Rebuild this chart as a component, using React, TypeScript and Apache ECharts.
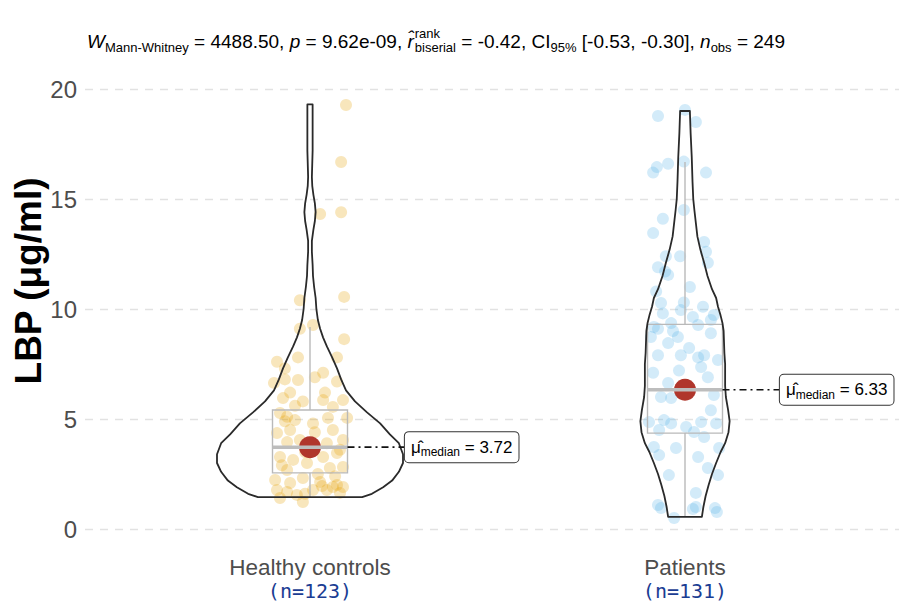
import React, { useEffect, useRef } from "react";
import * as echarts from "echarts";

const categories = ["Healthy controls", "Patients"];
const sampleSizes = [123, 131];
const yTickValues = [0, 5, 10, 15, 20];
const medianValues = [3.72, 6.33];
const q1Values = [2.55, 4.36];
const q3Values = [5.41, 9.3];
const whiskerLowValues = [1.42, 0.55];
const whiskerHighValues = [9.18, 16.68];

// violin outline: y value and half width (in category units)
const controlsViolinY = [1.45, 1.6, 1.9, 2.2, 2.6, 3.0, 3.4, 3.9, 4.3, 4.8, 5.3, 5.8, 6.3, 6.8, 7.3, 7.8, 8.3, 8.7, 9.1, 9.5, 10.0, 10.5, 11.0, 11.5, 12.0, 12.6, 13.1, 13.6, 14.0, 14.4, 14.8, 15.2, 15.6, 16.0, 16.6, 17.2, 17.8, 18.4, 18.9, 19.3];
const controlsViolinHalfWidth = [0.139, 0.165, 0.195, 0.219, 0.237, 0.248, 0.248, 0.237, 0.213, 0.187, 0.152, 0.12, 0.096, 0.083, 0.072, 0.059, 0.045, 0.035, 0.027, 0.021, 0.017, 0.015, 0.011, 0.008, 0.007, 0.005, 0.005, 0.009, 0.013, 0.015, 0.013, 0.009, 0.006, 0.005, 0.006, 0.007, 0.007, 0.007, 0.007, 0.007];
const patientsViolinY = [0.55, 1.0, 1.5, 2.0, 2.5, 3.0, 3.5, 3.9, 4.4, 4.9, 5.4, 6.0, 6.5, 7.0, 7.5, 8.0, 8.5, 9.0, 9.35, 9.7, 10.1, 10.5, 10.9, 11.5, 12.1, 12.7, 13.3, 13.9, 14.5, 15.0, 15.8, 16.9, 18.0, 19.0];
const patientsViolinHalfWidth = [0.045, 0.049, 0.055, 0.063, 0.072, 0.083, 0.095, 0.107, 0.116, 0.119, 0.115, 0.109, 0.107, 0.107, 0.107, 0.105, 0.104, 0.103, 0.1, 0.095, 0.088, 0.083, 0.072, 0.06, 0.051, 0.041, 0.033, 0.029, 0.025, 0.022, 0.02, 0.018, 0.015, 0.013];

// raw points: [jitter offset (category units), LBP value]
const controlsPoints = [[0.096,19.27],[0.083,16.68],[0.027,14.32],[0.083,14.4],[-0.027,10.4],[0.091,10.55],[-0.027,9.1],[0.008,9.27],[0.091,8.63],[-0.088,7.6],[-0.032,7.8],[0.072,7.8],[-0.067,7.3],[-0.096,6.64],[-0.067,6.8],[-0.032,6.77],[0.013,6.9],[0.035,7.1],[0.072,6.7],[-0.053,6.2],[0.04,6.2],[-0.019,5.8],[0.035,5.86],[0.088,5.86],[-0.072,5.95],[0.061,5.55],[-0.04,5.6],[-0.08,5.27],[0.099,5.05],[-0.04,4.95],[0.008,4.8],[0.048,5.05],[-0.061,5.1],[-0.067,4.9],[-0.088,4.36],[-0.053,4.5],[0.061,4.5],[0.013,4.4],[0.088,4.05],[-0.061,3.95],[-0.027,4.05],[0.045,3.9],[0.08,3.6],[-0.013,3.5],[-0.08,3.27],[-0.045,3.14],[0.035,3.27],[0.072,3.45],[-0.008,3.0],[-0.075,2.9],[-0.061,2.68],[0.053,2.77],[0.088,2.82],[0.021,2.5],[0.067,2.4],[-0.093,2.23],[-0.053,2.09],[-0.019,2.32],[0.027,2.14],[0.072,2.0],[0.088,1.91],[0.061,1.91],[-0.088,1.77],[-0.061,1.68],[-0.035,1.55],[0.008,1.77],[0.045,1.77],[-0.019,1.23],[-0.08,1.41],[0.08,1.64],[0.032,1.95],[-0.013,1.6]];
const patientsPoints = [[-0.072,18.77],[0,19.05],[0.029,18.5],[-0.085,16.2],[-0.075,16.45],[-0.045,16.6],[-0.003,16.7],[0.056,16.2],[-0.003,14.5],[-0.059,14.1],[-0.085,13.45],[0.051,13.05],[0.056,12.6],[-0.051,12.4],[-0.013,12.4],[0.061,12.1],[-0.072,11.9],[-0.053,11.7],[-0.045,11.55],[-0.077,10.8],[0.013,11.0],[-0.064,10.27],[-0.003,10.3],[0.048,10.1],[-0.011,9.95],[-0.059,9.8],[0.021,9.64],[0.077,9.73],[0.069,9.5],[-0.037,9.36],[-0.083,9.18],[-0.072,9.1],[-0.032,9.0],[0.035,9.27],[0.069,8.9],[-0.091,8.73],[-0.019,8.73],[-0.045,8.45],[0.011,8.23],[-0.072,7.9],[-0.011,7.9],[0.035,7.8],[0.051,7.9],[0.043,7.36],[0.088,7.68],[-0.085,7.1],[-0.016,7.2],[0.061,6.9],[-0.045,6.64],[-0.064,6.0],[-0.037,5.95],[0.077,6.09],[0.069,5.4],[-0.096,4.86],[-0.056,4.95],[-0.037,4.8],[0.003,4.64],[0.043,4.86],[0.083,4.8],[-0.069,4.5],[0.024,4.41],[0.051,4.18],[-0.083,3.73],[-0.024,3.68],[0.091,3.68],[-0.069,3.36],[0.035,3.27],[0.061,2.77],[-0.043,2.45],[0.088,2.45],[0.029,1.64],[-0.072,1.09],[-0.064,0.95],[-0.029,0.5],[0.021,0.91],[0.029,1.0],[0.08,0.95],[0.085,0.77]];

// subtitle pieces: [text, kind] kind: n normal, i italic, s subscript, stack super+sub
const titleParts: [string, string][] = [
  ["W", "i"], ["Mann-Whitney", "s"], [" = 4488.50, ", "n"],
  ["p", "i"], [" = 9.62e-09, ", "n"],
  ["r\u0302", "i"], ["rank|biserial", "stack"], [" = -0.42, CI", "n"], ["95%", "s"],
  [" [-0.53, -0.30], ", "n"], ["n", "i"], ["obs", "s"], [" = 249", "n"],
];

const FONT = "'Liberation Sans', Arial, Helvetica, sans-serif";

export default function App() {
  const ref = useRef<HTMLDivElement>(null);
  useEffect(() => {
    if (!ref.current) return;
    const chart = echarts.init(ref.current, null, { renderer: "svg" });

    const violins = [
      { ys: controlsViolinY, hw: controlsViolinHalfWidth },
      { ys: patientsViolinY, hw: patientsViolinHalfWidth },
    ];
    const BOX_HALF = 0.1;
    const LABEL_OFFSET = 0.253;

    // title layout
    const canvas = document.createElement("canvas");
    const ctx = canvas.getContext("2d")!;
    const MAIN = 19;
    const SUB = 13;
    const measure = (t: string, size: number, italic: boolean) => {
      ctx.font = `${italic ? "italic " : ""}${size}px ${FONT}`;
      return ctx.measureText(t).width;
    };
    type Frag = { text: string; size: number; italic: boolean; dx: number; dy: number };
    const frags: Frag[] = [];
    let cursor = 0;
    for (const [t, kind] of titleParts) {
      if (kind === "stack") {
        const [sup, sub] = t.split("|");
        const w1 = measure(sup, SUB, false);
        const w2 = measure(sub, SUB, false);
        frags.push({ text: sup, size: SUB, italic: false, dx: cursor + 1, dy: -10 });
        frags.push({ text: sub, size: SUB, italic: false, dx: cursor + 1, dy: 4 });
        cursor += Math.max(w1, w2) + 1;
      } else {
        const size = kind === "s" ? SUB : MAIN;
        const italic = kind === "i";
        const w = measure(t, size, italic);
        frags.push({ text: t, size, italic, dx: cursor, dy: kind === "s" ? 4 : 0 });
        cursor += w;
      }
    }
    const titleCenter = 436;
    const titleBaseline = 48;
    const startX = titleCenter - cursor / 2;
    const titleElems = frags.map((f) => ({
      type: "text",
      x: startX + f.dx,
      y: titleBaseline + f.dy - 0.35 * f.size,
      silent: true,
      style: {
        text: f.text,
        fontSize: f.size,
        fontFamily: FONT,
        fontStyle: f.italic ? "italic" : "normal",
        fill: "#000",
        align: "left",
        verticalAlign: "middle",
      },
    }));

    const renderItem = (params: any, api: any) => {
      const i = params.dataIndex;
      const cx = i + 1;
      const v = violins[i];
      const left = v.ys.map((y, k) => api.coord([cx - v.hw[k], y]));
      const right = v.ys.map((y, k) => api.coord([cx + v.hw[k], y])).reverse();
      const tl = api.coord([cx - BOX_HALF, q3Values[i]]);
      const br = api.coord([cx + BOX_HALF, q1Values[i]]);
      const wTop = api.coord([cx, whiskerHighValues[i]]);
      const q3p = api.coord([cx, q3Values[i]]);
      const q1p = api.coord([cx, q1Values[i]]);
      const wBot = api.coord([cx, whiskerLowValues[i]]);
      const medL = api.coord([cx - BOX_HALF, medianValues[i]]);
      const medR = api.coord([cx + BOX_HALF, medianValues[i]]);
      const mid = api.coord([cx, medianValues[i]]);
      const lab = api.coord([cx + LABEL_OFFSET, medianValues[i]]);
      const boxStroke = "#b9b9b9";
      return {
        type: "group",
        children: [
          { type: "line", shape: { x1: wTop[0], y1: wTop[1], x2: q3p[0], y2: q3p[1] }, style: { stroke: boxStroke, lineWidth: 1.4 } },
          { type: "line", shape: { x1: q1p[0], y1: q1p[1], x2: wBot[0], y2: wBot[1] }, style: { stroke: boxStroke, lineWidth: 1.4 } },
          { type: "rect", shape: { x: tl[0], y: tl[1], width: br[0] - tl[0], height: br[1] - tl[1] }, style: { fill: "none", stroke: boxStroke, lineWidth: 1.4 } },
          { type: "polygon", shape: { points: left.concat(right) }, style: { fill: "none", stroke: "#2a2a2a", lineWidth: 1.8, lineJoin: "round" } },
          { type: "circle", shape: { cx: mid[0], cy: mid[1], r: 11 }, style: { fill: "#b0362c" } },
          { type: "line", shape: { x1: medL[0], y1: medL[1], x2: medR[0], y2: medR[1] }, style: { stroke: "#bdbdbd", lineWidth: 3.5 } },
          { type: "line", shape: { x1: medR[0], y1: medR[1], x2: lab[0], y2: lab[1] }, style: { stroke: "#111", lineWidth: 1.6, lineDash: [7, 4, 2, 4] } },
          {
            type: "text",
            x: lab[0],
            y: lab[1],
            style: {
              text: `{m|\u03bc\u0302}{s|median}{v| = ${medianValues[i].toFixed(2)}}`,
              align: "left",
              verticalAlign: "middle",
              backgroundColor: "#fff",
              borderColor: "#333",
              borderWidth: 1,
              borderRadius: 4,
              padding: [4, 6, 4, 6],
              rich: {
                m: { fontSize: 17, fontFamily: FONT, fill: "#000", lineHeight: 22 },
                s: { fontSize: 12, fontFamily: FONT, fill: "#000", lineHeight: 14, verticalAlign: "bottom" },
                v: { fontSize: 17, fontFamily: FONT, fill: "#000", lineHeight: 22 },
              },
            },
          },
        ],
      };
    };

    chart.setOption({
      animation: false,
      backgroundColor: "#fff",
      grid: { left: 85, right: 0, top: 89, bottom: 77 },
      xAxis: {
        type: "value",
        min: 0.4,
        max: 0.4 + 814 / 375,
        splitLine: { show: false },
        axisLine: { show: false },
        axisTick: { show: false },
        axisLabel: {
          customValues: [1, 2],
          margin: 26,
          formatter: (val: number) => {
            const k = Math.round(val) - 1;
            return `{a|${categories[k]}}\n{b|(n=${sampleSizes[k]})}`;
          },
          rich: {
            a: { fontSize: 22.5, fontFamily: FONT, color: "#4d4d4d", lineHeight: 24 },
            b: { fontSize: 20, fontFamily: "'DejaVu Sans Mono', monospace", color: "#1b3d93", lineHeight: 24 },
          },
        },
      },
      yAxis: {
        type: "value",
        min: yTickValues[0],
        max: yTickValues[yTickValues.length - 1],
        interval: 5,
        axisLine: { show: false },
        axisTick: { show: false },
        axisLabel: { fontSize: 24, fontFamily: FONT, color: "#4d4d4d", margin: 8 },
        splitLine: { show: true, lineStyle: { color: "#e2e2e2", width: 1.3, type: [8, 7] } },
      },
      graphic: [
        ...titleElems,
        {
          type: "text",
          x: 28,
          y: 281,
          rotation: Math.PI / 2,
          style: {
            text: "LBP (\u03bcg/ml)",
            fontSize: 37,
            fontWeight: "bold",
            fontFamily: FONT,
            fill: "#000",
            align: "center",
            verticalAlign: "middle",
          },
        },
      ],
      series: [
        {
          type: "scatter",
          data: controlsPoints.map(([j, v]) => [1 + j, v]),
          symbolSize: 12,
          itemStyle: { color: "rgba(230,159,0,0.33)" },
          z: 1,
          silent: true,
        },
        {
          type: "scatter",
          data: patientsPoints.map(([j, v]) => [2 + j, v]),
          symbolSize: 12,
          itemStyle: { color: "rgba(86,180,233,0.33)" },
          z: 1,
          silent: true,
        },
        {
          type: "custom",
          data: categories.map((_, i) => [i + 1, medianValues[i]]),
          renderItem,
          clip: false,
          z: 3,
          silent: true,
        },
      ],
    });
    return () => chart.dispose();
  }, []);
  return <div ref={ref} style={{ position: "absolute", left: 0, top: 0, width: 899, height: 606 }} />;
}
